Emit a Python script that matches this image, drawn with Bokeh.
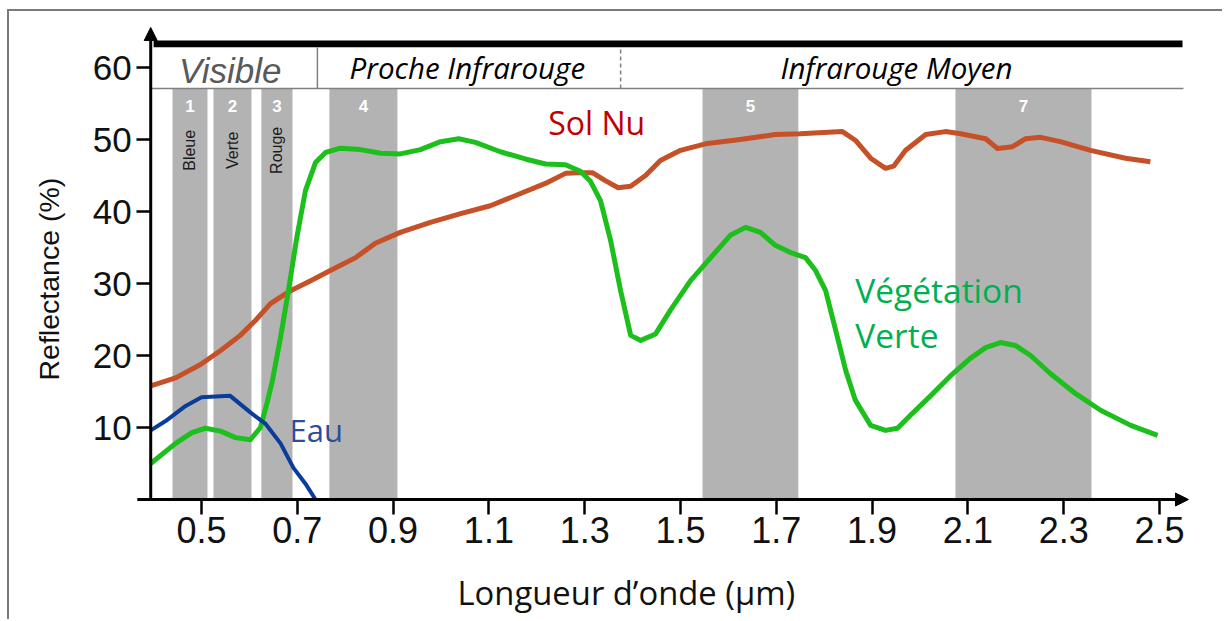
import math
from bokeh.plotting import figure
from bokeh.models import FixedTicker, Arrow, NormalHead
from bokeh.embed import file_html
from bokeh.resources import INLINE
from bokeh.core.properties import value

# ---------------- data ----------------
veg_x = [0.394, 0.446, 0.480, 0.508, 0.540, 0.571, 0.602, 0.623, 0.638, 0.648, 0.665, 0.682,
         0.698, 0.717, 0.738, 0.759, 0.790, 0.832, 0.874, 0.915, 0.957, 0.999, 1.037, 1.072,
         1.124, 1.176, 1.218, 1.260, 1.291, 1.312, 1.333, 1.354, 1.375, 1.396, 1.417, 1.448,
         1.479, 1.521, 1.563, 1.604, 1.636, 1.667, 1.698, 1.730, 1.761, 1.782, 1.803, 1.824,
         1.845, 1.865, 1.897, 1.928, 1.953, 1.980, 2.022, 2.064, 2.105, 2.137, 2.168, 2.199,
         2.231, 2.272, 2.325, 2.377, 2.440, 2.496]
veg_y = [5.0, 7.8, 9.3, 9.9, 9.5, 8.6, 8.3, 10.0, 13.7, 16.5, 22.5, 29.2,
         36.0, 42.9, 46.8, 48.2, 48.8, 48.6, 48.1, 48.0, 48.6, 49.7, 50.1, 49.6,
         48.3, 47.3, 46.6, 46.5, 45.6, 44.2, 41.5, 36.0, 29.0, 22.8, 22.1, 23.0,
         26.3, 30.4, 33.6, 36.7, 37.8, 37.1, 35.3, 34.3, 33.6, 31.8, 29.0, 23.5,
         17.9, 13.8, 10.3, 9.6, 9.9, 11.7, 14.4, 17.2, 19.6, 21.1, 21.8, 21.4,
         20.0, 17.5, 14.7, 12.4, 10.3, 8.9]

soil_x = [0.394, 0.446, 0.498, 0.540, 0.581, 0.613, 0.644, 0.686, 0.728, 0.769, 0.822, 0.863,
          0.915, 0.978, 1.041, 1.103, 1.166, 1.218, 1.260, 1.291, 1.316, 1.343, 1.370, 1.396,
          1.427, 1.458, 1.500, 1.552, 1.625, 1.698, 1.750, 1.838, 1.865, 1.897, 1.928, 1.945,
          1.970, 2.012, 2.053, 2.085, 2.137, 2.162, 2.193, 2.220, 2.252, 2.293, 2.356, 2.429,
          2.481]
soil_y = [15.8, 16.9, 18.75, 20.7, 22.8, 24.9, 27.2, 29.0, 30.4, 31.8, 33.6, 35.6,
          37.1, 38.5, 39.7, 40.8, 42.5, 43.9, 45.3, 45.4, 45.4, 44.3, 43.3, 43.5,
          45.0, 47.1, 48.5, 49.4, 50.0, 50.7, 50.8, 51.1, 49.9, 47.4, 46.0, 46.3,
          48.5, 50.7, 51.1, 50.8, 50.1, 48.75, 49.0, 50.1, 50.3, 49.7, 48.5, 47.4,
          46.9]

water_x = [0.394, 0.425, 0.467, 0.500, 0.560, 0.602, 0.634, 0.665, 0.692, 0.717, 0.738]
water_y = [9.6, 10.9, 13.0, 14.2, 14.4, 12.1, 10.5, 7.8, 4.4, 2.2, 0.0]

band_numbers = ["1", "2", "3", "4", "5", "7"]
band_left = [0.4395, 0.525, 0.625, 0.767, 1.546, 2.074]
band_right = [0.5125, 0.6044, 0.690, 0.909, 1.746, 2.358]
band_colour_names = ["Bleue", "Verte", "Rouge"]

region_names = ["Visible", "Proche Infrarouge", "Infrarouge Moyen"]
region_centers = [0.56, 1.055, 1.951]
region_splits = [0.742, 1.375]

x_ticks = [0.5, 0.7, 0.9, 1.1, 1.3, 1.5, 1.7, 1.9, 2.1, 2.3, 2.5]
x_tick_labels = ["0.5", "0.7", "0.9", "1.1", "1.3", "1.5", "1.7", "1.9", "2.1", "2.3", "2.5"]
y_ticks = [10, 20, 30, 40, 50, 60]

x_title = "Longueur d’onde (µm)"
y_title = "Reflectance (%)"

# axis origin / ends (data units)
X0, X_END, X_TAIL = 0.394, 2.5605, 0.366
Y_END = 65.56
# visible canvas extent in data units (axes are fixed inside it)
XR = (0.0992, 2.6357)
YR = (-16.94, 67.78)
HEAD_BOTTOM, HEAD_TOP, BAR_TOP = 57.1, 62.8, 63.75
HEAD_RIGHT = 2.55

# ---------------- figure ----------------
p = figure(width=1215, height=610, x_range=XR, y_range=YR,
           output_backend="svg", toolbar_location=None, min_border=0)
p.styles = {"border-top": "2px solid #7a7a7a", "border-left": "2px solid #7a7a7a",
            "margin-left": "7px", "margin-top": "9px"}
p.grid.visible = False
p.outline_line_color = None
p.background_fill_color = "white"
p.border_fill_color = "white"

for ax in (p.xaxis[0], p.yaxis[0]):
    ax.axis_line_color = None
    ax.major_tick_line_width = 2.5
    ax.major_tick_line_color = "black"
    ax.major_tick_in = 0
    ax.minor_tick_line_color = None
    ax.major_label_text_font = "Liberation Sans"
    ax.major_label_text_color = "#111111"

p.xaxis.fixed_location = 0
p.xaxis.ticker = FixedTicker(ticks=x_ticks)
p.xaxis.major_label_overrides = {t: l for t, l in zip(x_ticks, x_tick_labels)}
p.xaxis.major_tick_out = 15
p.xaxis.major_label_standoff = 2
p.xaxis.major_label_text_font_size = "36px"

p.yaxis.fixed_location = X0
p.yaxis.ticker = FixedTicker(ticks=y_ticks)
p.yaxis.major_tick_out = 14
p.yaxis.major_label_standoff = 5
p.yaxis.major_label_text_font_size = "35px"

# axis lines with arrow heads
p.add_layout(Arrow(end=NormalHead(size=13, fill_color="black", line_color="black"),
                   x_start=X_TAIL, y_start=0, x_end=X_END, y_end=0,
                   line_width=3, line_color="black"))
p.add_layout(Arrow(end=NormalHead(size=13, fill_color="black", line_color="black"),
                   x_start=X0, y_start=0, x_end=X0, y_end=Y_END,
                   line_width=3, line_color="black"))

# axis titles
p.text(x=[1.0344], y=[-12.98], text=[x_title], text_font=value("Open Sans"),
       text_font_size="32.8px", text_color="#111111", text_align="left",
       text_baseline="alphabetic")
p.text(x=[0.1827], y=[16.53], text=[y_title], angle=math.pi / 2,
       text_font=value("Liberation Sans"), text_font_size="28.5px", text_color="#111111",
       text_align="left", text_baseline="middle")

# spectral bands
p.quad(left=band_left, right=band_right, bottom=0, top=HEAD_BOTTOM,
       fill_color="#b3b3b3", line_color=None)
centers = [(a + b) / 2 for a, b in zip(band_left, band_right)]
p.text(x=centers, y=[54.7] * len(centers), text=band_numbers,
       text_font=value("Liberation Sans"), text_font_style="bold", text_font_size="17px",
       text_color="white", text_align="center", text_baseline="middle")
p.text(x=centers[:3], y=[48.5] * 3, text=band_colour_names, angle=math.pi / 2,
       text_font=value("Liberation Sans"), text_font_size="16px",
       text_color="#1a1a1a", text_align="center", text_baseline="middle")

# header
p.quad(left=[0.40], right=[2.548], bottom=[HEAD_TOP], top=[BAR_TOP],
       fill_color="black", line_color=None)
p.segment(x0=[X0], y0=[HEAD_BOTTOM], x1=[HEAD_RIGHT], y1=[HEAD_BOTTOM],
          line_color="#808080", line_width=1.5)
p.segment(x0=[region_splits[0]], y0=[HEAD_BOTTOM], x1=[region_splits[0]], y1=[HEAD_TOP],
          line_color="#808080", line_width=1.5)
p.segment(x0=[region_splits[1]], y0=[HEAD_BOTTOM], x1=[region_splits[1]], y1=[HEAD_TOP],
          line_color="#808080", line_width=1.5, line_dash="4 3")
p.text(x=[region_centers[0]], y=[59.65], text=[region_names[0]],
       text_font=value("Liberation Sans"), text_font_style="italic", text_font_size="35px",
       text_color="#595959", text_align="center", text_baseline="alphabetic")
p.text(x=region_centers[1:], y=[59.95, 59.95], text=region_names[1:],
       text_font=value("Open Sans"), text_font_style="italic", text_font_size="29.5px",
       text_color="black", text_align="center", text_baseline="alphabetic")

# curves
p.line(soil_x, soil_y, line_width=5, line_color="#c65128", line_join="round")
p.line(veg_x, veg_y, line_width=5, line_color="#1dbf1d", line_join="round")
p.line(water_x, water_y, line_width=4, line_color="#0a3c9a", line_join="round")

# curve labels
p.text(x=[1.325], y=[52.4], text=["Sol Nu"], text_font=value("Open Sans"),
       text_font_size="32px", text_color="#c00000", text_align="center",
       text_baseline="alphabetic")
p.text(x=[0.684], y=[9.65], text=["Eau"], text_font=value("Open Sans"),
       text_font_size="31px", text_color="#2a4f96", text_align="left",
       text_baseline="alphabetic")
p.text(x=[1.865, 1.865], y=[29.05, 22.85], text=["Végétation", "Verte"],
       text_font=value("Open Sans"), text_font_size="33.5px", text_color="#00b050",
       text_align="left", text_baseline="alphabetic")

open("out.html", "w").write(file_html(p, INLINE))
